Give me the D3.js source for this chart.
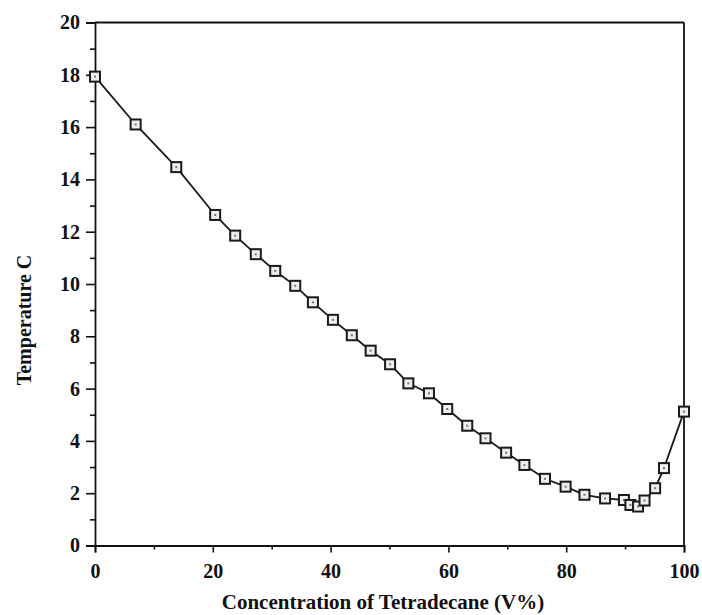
<!DOCTYPE html>
<meta charset="utf-8">
<title>Temperature vs concentration of tetradecane</title>
<style>
body {
  margin: 0;
  background-color: white;
}
svg text {
  font-family: 'Liberation Serif', 'DejaVu Serif', serif;
  font-weight: bold;
  fill: #111;
}
</style>
<svg width="702" height="615"></svg>
<script src="https://d3js.org/d3.v7.min.js"></script>
<script>
// concentration of tetradecane (V%)
var concentration = [0, 6.9, 13.8, 20.4, 23.8, 27.3, 30.6, 34.0, 37.0, 40.4,
    43.6, 46.8, 50.1, 53.2, 56.7, 59.8, 63.2, 66.3, 69.8, 72.9,
    76.4, 79.9, 83.1, 86.6, 89.8, 90.9, 92.2, 93.3, 95.1, 96.6, 100];

// melting temperature (C)
var temperature = [17.93, 16.1, 14.47, 12.64, 11.85, 11.14, 10.5, 9.93, 9.3, 8.63,
    8.04, 7.45, 6.93, 6.2, 5.82, 5.22, 4.58, 4.1, 3.55, 3.08,
    2.55, 2.25, 1.94, 1.8, 1.74, 1.55, 1.49, 1.72, 2.19, 2.96, 5.12];

var xTicks = [0, 20, 40, 60, 80, 100],
    xMinor = [10, 30, 50, 70, 90],
    yTicks = [0, 2, 4, 6, 8, 10, 12, 14, 16, 18, 20],
    yMinor = [1, 3, 5, 7, 9, 11, 13, 15, 17, 19];

var points = concentration.map(function(c, i) { return [c, temperature[i]]; });

var svg = d3.select("svg");

var x = d3.scaleLinear()
    .domain([0, 100])
    .range([95, 684]);

var y = d3.scaleLinear()
    .domain([0, 20])
    .range([545.5, 22.5]);

// frame: top and right
svg.append("line")
    .attr("x1", x(0)).attr("x2", x(100))
    .attr("y1", y(20)).attr("y2", y(20))
    .attr("stroke", "#111").attr("stroke-width", 1.8);
svg.append("line")
    .attr("x1", x(100)).attr("x2", x(100))
    .attr("y1", y(20)).attr("y2", y(0))
    .attr("stroke", "#111").attr("stroke-width", 1.8);

// x axis
svg.append("g")
    .attr("transform", "translate(0," + y(0) + ")")
    .call(d3.axisBottom(x).tickValues(xTicks).tickSize(7).tickPadding(11));
svg.append("g")
    .attr("transform", "translate(0," + y(0) + ")")
    .call(d3.axisBottom(x).tickValues(xMinor).tickSize(4).tickFormat(""))
    .select(".domain").remove();

// y axis
svg.append("g")
    .attr("transform", "translate(" + x(0) + ",0)")
    .call(d3.axisLeft(y).tickValues(yTicks).tickSize(9).tickPadding(6));
svg.append("g")
    .attr("transform", "translate(" + x(0) + ",0)")
    .call(d3.axisLeft(y).tickValues(yMinor).tickSize(5).tickFormat(""))
    .select(".domain").remove();

svg.selectAll(".domain").attr("stroke", "#111").attr("stroke-width", 1.8);
svg.selectAll(".tick line").attr("stroke", "#111").attr("stroke-width", 1.6);
svg.selectAll(".tick text")
    .attr("font-family", "'Liberation Serif', serif")
    .attr("font-weight", "bold")
    .attr("font-size", 20)
    .attr("fill", "#111");

// data line
var line = d3.line()
    .x(function(d) { return x(d[0]); })
    .y(function(d) { return y(d[1]); });

svg.append("path")
    .datum(points)
    .attr("d", line)
    .attr("fill", "none")
    .attr("stroke", "#1a1a1a")
    .attr("stroke-width", 1.8);

// square markers
var markers = svg.append("g").selectAll("g")
  .data(points)
  .enter().append("g")
    .attr("transform", function(d) { return "translate(" + x(d[0]) + "," + y(d[1]) + ")"; });

markers.append("rect")
    .attr("x", -5).attr("y", -5)
    .attr("width", 10).attr("height", 10)
    .attr("fill", "#eee")
    .attr("stroke", "#1a1a1a")
    .attr("stroke-width", 2);

markers.append("rect")
    .attr("x", -1).attr("y", -1)
    .attr("width", 2).attr("height", 2)
    .attr("fill", "#777");

// axis titles
svg.append("text")
    .attr("x", 383)
    .attr("y", 609)
    .attr("text-anchor", "middle")
    .attr("font-size", 21)
    .text("Concentration of Tetradecane (V%)");

svg.append("text")
    .attr("transform", "translate(31,320) rotate(-90)")
    .attr("text-anchor", "middle")
    .attr("font-size", 20)
    .text("Temperature C");
</script>
